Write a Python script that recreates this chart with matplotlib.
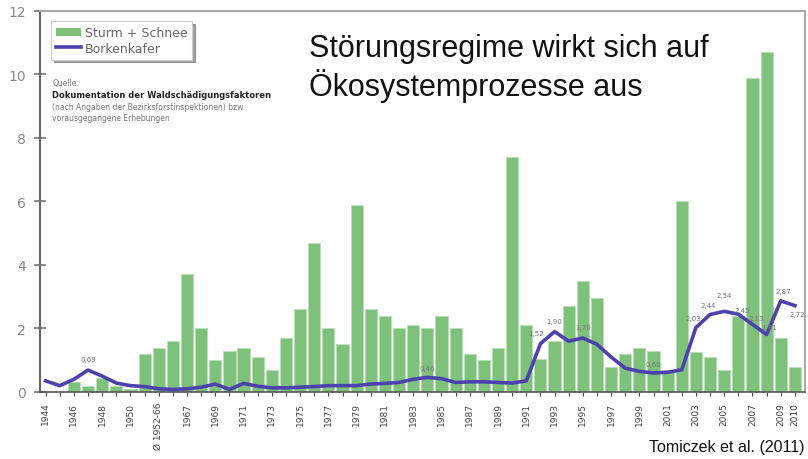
import matplotlib.pyplot as plt
from matplotlib.patches import Patch
from matplotlib.lines import Line2D

# categories (one bar per entry), Ø 1952-66 is an average column
categories = (["1944", "1945", "1946", "1947", "1948", "1949", "1950", "1951",
               "Ø 1952-66", "1966"]
              + [str(y) for y in range(1967, 2011)])

# Sturm + Schnee (bars)
sturm = [0.0, 0.0, 0.3, 0.2, 0.45, 0.2, 0.1, 1.2, 1.4, 1.6,
         3.7, 2.0, 1.0, 1.3, 1.4, 1.1, 0.7, 1.7, 2.6, 4.7,
         2.0, 1.5, 5.9, 2.6, 2.4, 2.0, 2.1, 2.0, 2.4, 2.0,
         1.2, 1.0, 1.4, 7.4, 2.1, 1.05, 1.6, 2.7, 3.5, 2.95,
         0.8, 1.2, 1.4, 1.3, 0.7, 6.0, 1.25, 1.1, 0.7, 2.4,
         9.9, 10.7, 1.7, 0.8]

# Borkenkäfer (line)
kaefer = [0.35, 0.2, 0.4, 0.69, 0.5, 0.28, 0.2, 0.17, 0.1, 0.08,
          0.1, 0.15, 0.25, 0.08, 0.27, 0.18, 0.13, 0.13, 0.15, 0.17,
          0.2, 0.2, 0.2, 0.25, 0.27, 0.3, 0.4, 0.46, 0.42, 0.3,
          0.32, 0.32, 0.3, 0.28, 0.35, 1.52, 1.90, 1.6, 1.70, 1.5,
          1.1, 0.75, 0.65, 0.6, 0.62, 0.7, 2.03, 2.44, 2.54, 2.45,
          2.13, 1.81, 2.87, 2.72]

# which points of the line carry a value label
label_idx = [3, 27, 35, 36, 38, 43, 46, 47, 48, 49, 50, 51, 52, 53]

# shown x tick labels: every second one plus the last
tick_labels = [c if (i % 2 == 0 or i == len(categories) - 1) else ""
               for i, c in enumerate(categories)]

x = list(range(len(categories)))

fig = plt.figure(figsize=(8.08, 4.60), dpi=100)
ax = fig.add_axes([0.0495, 0.1457, 0.9465, 0.8283])

ax.bar(x, sturm, width=0.86, color="#7dc17a", edgecolor="#b8e0b4", linewidth=0.6, zorder=2)
ax.plot(x, kaefer, color="#4d42ad", lw=2.6, solid_joinstyle="round", zorder=3)

# label placement (offsets in data units) to roughly follow the original
offsets = {3: (0, 0.25), 27: (0, 0.2), 35: (-0.3, 0.25), 36: (0, 0.25), 38: (0, 0.25),
           43: (0, 0.2), 46: (-0.2, 0.22), 47: (-0.1, 0.22), 48: (0, 0.42),
           49: (0.3, 0.05), 50: (0.3, 0.1), 51: (0.2, 0.15), 52: (0.2, 0.22),
           53: (0.2, -0.35)}
for i in label_idx:
    dx, dy = offsets[i]
    ax.text(i + dx, kaefer[i] + dy, f"{kaefer[i]:.2f}".replace(".", ","),
            ha="center", va="bottom", fontsize=5, color="#777777", zorder=4)

ax.set_xlim(-0.4, 53.7)
ax.set_ylim(0, 12)
ax.set_yticks(range(0, 13, 2))
ax.set_xticks(x)
ax.set_xticklabels(tick_labels, rotation=90, fontsize=6.5, color="#444444")
ax.tick_params(axis="y", direction="inout", length=8, width=1.2, colors="#777777",
               labelsize=10, labelcolor="#888888", pad=6)
ax.tick_params(axis="x", direction="out", length=3, width=0.8, colors="#555555", pad=4)
for lab in ax.get_xticklabels():
    lab.set_color("#444444")

ax.spines["left"].set_color("#666666")
ax.spines["left"].set_linewidth(1.5)
ax.spines["bottom"].set_color("#555555")
ax.spines["bottom"].set_linewidth(1.2)
ax.spines["top"].set_color("#a8a8a8")
ax.spines["top"].set_linewidth(1.4)
ax.spines["right"].set_color("#a8a8a8")
ax.spines["right"].set_linewidth(1.4)

handles = [Patch(facecolor="#7dc17a", edgecolor="none"),
           Line2D([0], [0], color="#4d42ad", lw=2.6)]
leg = ax.legend(handles, ["Sturm + Schnee", "Borkenkafer"], loc="upper left",
                bbox_to_anchor=(0.006, 0.99), fontsize=9, frameon=True, fancybox=False,
                shadow=True, borderpad=0.4, labelspacing=0.2, handlelength=2.0,
                handletextpad=0.3, handleheight=0.6)
leg.get_frame().set_edgecolor("#cccccc")
leg.get_frame().set_linewidth(0.8)
for t in leg.get_texts():
    t.set_color("#666666")

# source note
ax.text(0.016, 0.806, "Quelle:", transform=ax.transAxes, fontsize=5.5, color="#777777")
ax.text(0.016, 0.774, "Dokumentation der Waldschädigungsfaktoren", transform=ax.transAxes,
        fontsize=6, fontweight="bold", color="#222222")
ax.text(0.016, 0.743, "(nach Angaben der Bezirksforstinspektionen) bzw.",
        transform=ax.transAxes, fontsize=5.5, color="#777777")
ax.text(0.016, 0.714, "vorausgegangene Erhebungen", transform=ax.transAxes,
        fontsize=5.5, color="#777777")

# overlay title
fig.text(0.383, 0.877, "Störungsregime wirkt sich auf", fontsize=22,
         family="Liberation Sans", color="#111111")
fig.text(0.383, 0.792, "Ökosystemprozesse aus", fontsize=22,
         family="Liberation Sans", color="#111111")

fig.text(0.996, 0.018, "Tomiczek et al. (2011)", fontsize=11.5, ha="right",
         family="Liberation Sans", color="#111111")

fig.savefig("out.png", dpi=100)
